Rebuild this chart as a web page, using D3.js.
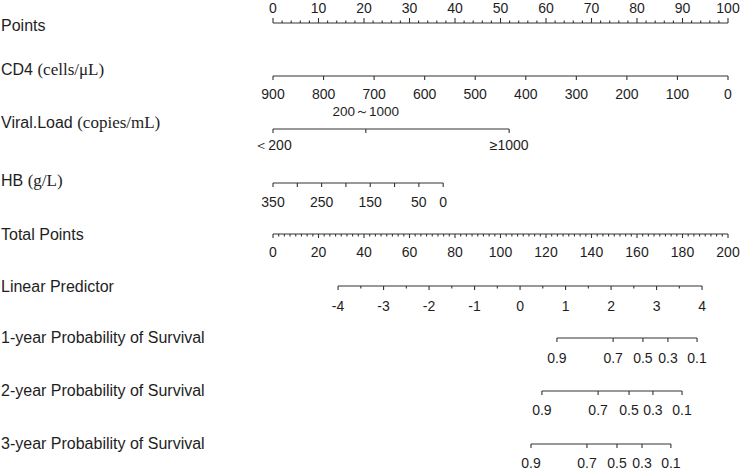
<!DOCTYPE html>
<html><head><meta charset="utf-8">
<script src="https://cdn.jsdelivr.net/npm/d3@7"></script>
<style>
body{margin:0;background:#fff;}
svg{display:block;}
text{font-family:"Liberation Sans",Arial,sans-serif;fill:#1e1e1e;}
.serif{font-family:"Liberation Serif","Times New Roman",serif;}
</style></head><body>
<svg id="c" width="741" height="471"></svg>
<script>
// ---- data ----
const pointsTicks = [0,10,20,30,40,50,60,70,80,90,100];
const cd4Ticks = [900,800,700,600,500,400,300,200,100,0];
const cd4Domain = [900,0];          // maps to points 0..100
const cd4Points = [0,100];
const viralCategories = ["＜200","200～1000","≥1000"];
const viralPoints = [0,20.4,51.9];
const hbTicks = [350,300,250,200,150,100,50,0];
const hbLabels = [350,250,150,50,0];
const hbDomain = [350,0];
const hbPoints = [0,37.4];
const totalTicks = [0,20,40,60,80,100,120,140,160,180,200];
const lpTicks = [-4,-3,-2,-1,0,1,2,3,4];
const lpDomain = [-4,4];
const lpTotal = [28.6,188.6];
const survLabels = [0.9,0.7,0.5,0.3,0.1];
const surv1Total = [124.8,149.5,162.6,173.6,186.4];
const surv2Total = [118.2,142.9,156.5,167.0,179.8];
const surv3Total = [113.4,138.0,151.2,162.2,174.9];

// ---- layout ----
const svg = d3.select("#c");
const xPts = d3.scaleLinear().domain([0,100]).range([273,728]);
const xTot = d3.scaleLinear().domain([0,200]).range([273,728]);
const lineCol = "#333";
const tickFont = 14;

function hline(y,x0,x1){
  svg.append("line").attr("x1",x0).attr("x2",x1).attr("y1",y).attr("y2",y)
    .attr("stroke",lineCol).attr("stroke-width",1.2);
}
function tick(x,y,len){
  svg.append("line").attr("x1",x).attr("x2",x).attr("y1",y).attr("y2",y+len)
    .attr("stroke",lineCol).attr("stroke-width",1.1);
}
function tlabel(x,y,t,fs){
  svg.append("text").attr("x",x).attr("y",y).attr("text-anchor","middle")
    .attr("font-size",fs||tickFont).text(t);
}
function varLabel(y,sans,serif){
  const t = svg.append("text").attr("x",1).attr("y",y).attr("font-size",16);
  t.append("tspan").text(sans);
  if(serif) t.append("tspan").attr("class","serif").attr("font-size",17).text(serif);
}

// Points
{
  const y=23;
  varLabel(31,"Points");
  hline(y,xPts(0),xPts(100));
  d3.range(0,101,2).forEach(v=>{
    const major = pointsTicks.includes(v);
    tick(xPts(v),y,major?-5:-2.5);
  });
  pointsTicks.forEach(v=>tlabel(xPts(v),12.5,v));
}
// CD4
{
  const y=76;
  varLabel(75,"CD4 ","(cells/μL)");
  const s = d3.scaleLinear().domain(cd4Domain).range(cd4Points);
  hline(y,xPts(s(cd4Ticks[0])),xPts(s(cd4Ticks[cd4Ticks.length-1])));
  cd4Ticks.forEach(v=>{tick(xPts(s(v)),y,4); tlabel(xPts(s(v)),99,v);});
}
// Viral load
{
  const y=129;
  varLabel(128,"Viral.Load ","(copies/mL)");
  hline(y,xPts(viralPoints[0]),xPts(viralPoints[2]));
  viralCategories.forEach((c,i)=>{
    const x=xPts(viralPoints[i]);
    tick(x,y,4);
    if(i===1) tlabel(x,116,c,13.5); else tlabel(x,150,c);
  });
}
// HB
{
  const y=183;
  varLabel(186,"HB ","(g/L)");
  const s = d3.scaleLinear().domain(hbDomain).range(hbPoints);
  hline(y,xPts(s(350)),xPts(s(0)));
  hbTicks.forEach(v=>tick(xPts(s(v)),y,4));
  hbLabels.forEach(v=>tlabel(xPts(s(v)),207,v));
}
// Total points
{
  const y=234;
  varLabel(240,"Total Points");
  hline(y,xTot(0),xTot(200));
  d3.range(0,200.1,2.5).forEach(v=>{
    const major = totalTicks.includes(v);
    tick(xTot(v),y,major?4:2.5);
  });
  totalTicks.forEach(v=>tlabel(xTot(v),257,v));
}
// Linear predictor
{
  const y=286;
  varLabel(292,"Linear Predictor");
  const s = d3.scaleLinear().domain(lpDomain).range(lpTotal);
  hline(y,xTot(s(-4)),xTot(s(4)));
  d3.range(-4,4.01,0.5).forEach(v=>{
    const major = lpTicks.includes(v);
    tick(xTot(s(v)),y,major?4:2.5);
  });
  lpTicks.forEach(v=>tlabel(xTot(s(v)),311,v));
}
// Survival axes
[
  {label:"1-year Probability of Survival", y:338, ly:363, vy:343, tot:surv1Total},
  {label:"2-year Probability of Survival", y:391, ly:415, vy:396, tot:surv2Total},
  {label:"3-year Probability of Survival", y:444, ly:468, vy:449, tot:surv3Total}
].forEach(r=>{
  varLabel(r.vy,r.label);
  hline(r.y,xTot(r.tot[0]),xTot(r.tot[r.tot.length-1]));
  survLabels.forEach((p,i)=>{
    tick(xTot(r.tot[i]),r.y,4);
    tlabel(xTot(r.tot[i]),r.ly,p);
  });
});
</script>
</body></html>
